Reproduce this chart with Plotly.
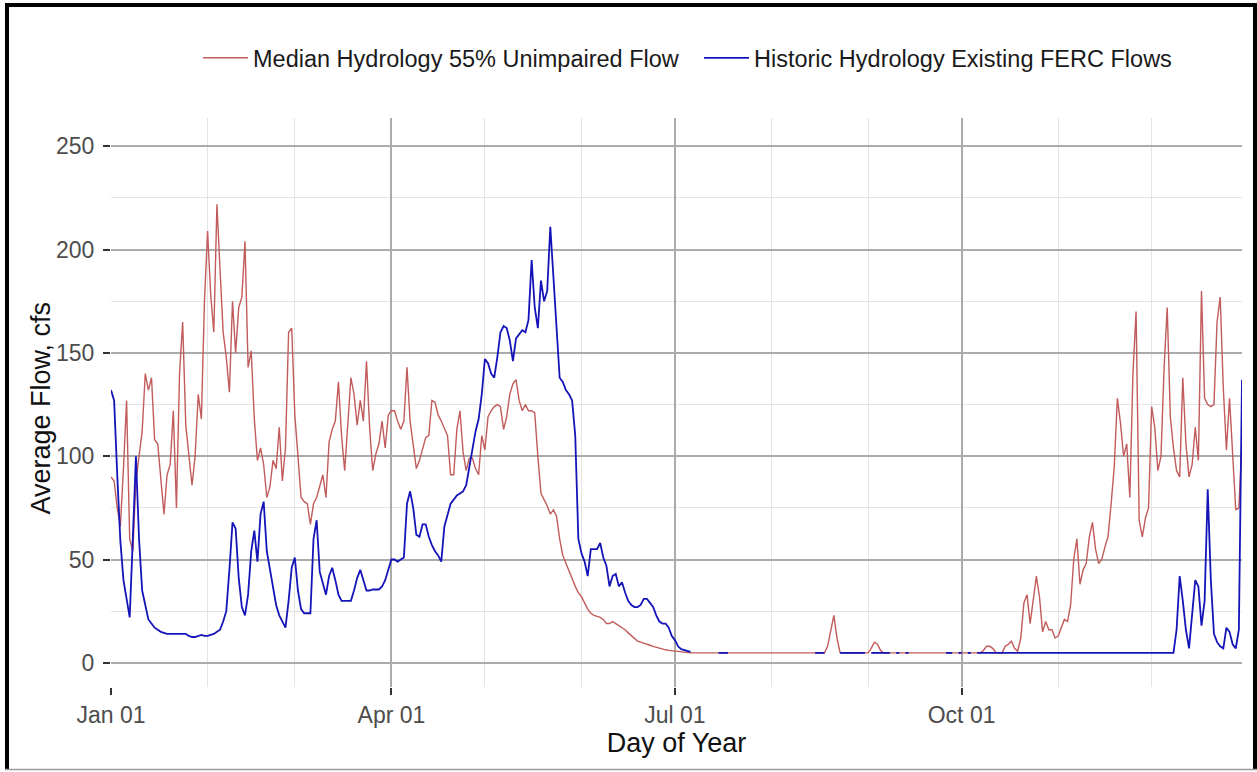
import pandas as pd
import plotly.graph_objects as go

N = None
# Daily values, Jan 01 .. Dec 30 (364 days)
median_55_unimpaired = [
    90, 88, 75, 66, 94, 127, 60, 54, 88, 100,
    112, 140, 132, 138, 108, 106, 90, 72, 91, 96,
    122, 75, 140, 165, 115, 100, 86, 100, 130, 118,
    175, 209, 178, 160, 222, 190, 160, 148, 131, 175,
    150, 172, 177, 204, 143, 151, 118, 98, 104, 96,
    80, 85, 98, 94, 114, 88, 104, 160, 162, 120,
    102, 80, 78, 77, 67, 77, 80, 85, 91, 80,
    107, 113, 117, 136, 110, 93, 117, 138, 130, 115,
    127, 117, 146, 114, 93, 101, 106, 117, 104, 120,
    122, 122, 117, 113, 117, 143, 117, 104, 94, 98,
    104, 109, 110, 127, 126, 120, 117, 113, 110, 91,
    91, 113, 122, 102, 93, 99, 99, 94, 91, 110,
    103, 119, 122, 124, 125, 124, 113, 119, 130, 135,
    137, 127, 122, 125, 122, 122, 121, 100, 82, 79,
    76, 72, 74, 71, 60, 52, 48, 45, 41, 37,
    34, 32, 29, 26, 24, 23, 22.5, 22, 21, 19,
    19, 20, 19, 18, 17, 16, 14.5, 13, 12, 10.5,
    10, 9.6, 9, 8.5, 8, 7.5, 7, 6.6, 6.3, 6,
    5.8, 5.6, 5.4, 5.2, 5.1, 5, 4.8, 4.8, 4.8, 4.8,
    4.8, 4.8, 4.8, 4.8, 4.8, 4.8, 4.8, 4.8, 4.8, 4.8,
    4.8, 4.8, 4.8, 4.8, 4.8, 4.8, 4.8, 4.8, 4.8, 4.8,
    4.8, 4.8, 4.8, 4.8, 4.8, 4.8, 4.8, 4.8, 4.8, 4.8,
    4.8, 4.8, 4.8, 4.8, 4.8, 4.8, 4.8, 4.8, 4.8, 4.8,
    8, 15, 23, 12, 5, 4.8, 4.8, 4.8, 4.8, 4.8,
    4.8, 4.8, 4.8, 4.8, 7, 10, 9, 6, 4.8, 4.8,
    4.8, 4.8, 4.8, 4.8, 4.8, 4.8, 4.8, 4.8, 4.8, 4.8,
    4.8, 4.8, 4.8, 4.8, 4.8, 4.8, 4.8, 4.8, 4.8, 4.8,
    4.8, 4.8, 4.8, 4.8, 4.8, 4.8, 4.8, 4.8, 4.8, 4.8,
    6, 8, 8, 7, 5, 4.8, 4.8, 8, 9, 10.5,
    7, 5.6, 12, 29, 33, 19, 30, 42, 32, 15,
    20, 16, 16, 12, 13, 17, 21, 20, 28, 50,
    60, 38, 45, 48, 61, 68, 55, 48, 50, 56,
    61, 77, 95, 128, 116, 100, 106, 80, 140, 170,
    69, 61, 70, 75, 124, 114, 93, 100, 143, 172,
    119, 104, 93, 90, 138, 106, 90, 96, 114, 98,
    180, 128, 125, 124, 125, 165, 177, 133, 103, 128,
    103, 74, 75, 108,
]

historic_existing_ferc = [
    132, 127, 91, 59, 40, 30, 22, 60, 100, 60,
    35, 28, 21, 19, 17, 16, 15, 14.5, 14, 14,
    14, 14, 14, 14, 14, 13, 12.5, 12.5, 13, 13.5,
    13, 13, 13.5, 14, 15, 16, 20, 25, 45, 68,
    65, 41, 27, 23, 33, 54, 64, 49, 72, 78,
    54, 45, 38, 28, 23, 20, 17, 30, 46, 51,
    35, 26, 24, 24, 24, 60, 69, 44, 38, 33,
    42, 46, 40, 33, 30, 30, 30, 30, 35, 41,
    45, 40, 35, 35, 35.5, 35.5, 35.5, 37, 40, 45,
    50, 50, 49, 50, 51, 77, 83, 75, 62, 61,
    67, 67, 61, 57, 54, 52, 49, 66, 71, 77,
    79, 81, 82, 83, 86, 95, 105, 112, 118, 130,
    147, 145, 140, 138, 148, 160, 163, 162, 156, 146,
    157, 159, 161, 160, 166, 195, 172, 162, 185, 175,
    180, 211, 188, 164, 138, 136, 132, 130, 127, 110,
    60, 53, 49, 42, 55, 55, 55, 58, 51, 47,
    37, 42, 43, 37, 39, 34, 30, 28, 27, 27,
    28, 31, 31, 29, 27, 23, 20, 19, 19, 17,
    13, 11, 8, 6.6, 6.2, 5.8, 5.3, N, N, N,
    N, N, N, N, N, 4.8, 4.8, 4.8, 4.8, N,
    N, N, N, N, N, N, N, N, N, N,
    N, N, N, N, N, N, N, N, N, N,
    N, N, N, N, N, N, 4.8, 4.8, 4.8, 4.8,
    N, N, N, N, 4.8, 4.8, 4.8, 4.8, 4.8, 4.8,
    4.8, 4.8, 4.8, N, 4.8, 4.8, 4.8, 4.8, 4.8, 4.8,
    4.8, N, 4.8, 4.8, N, 4.8, 4.8, N, N, N,
    N, N, N, N, N, N, N, N, 4.8, 4.8,
    4.8, N, 4.8, 4.8, N, 4.8, 4.8, N, 4.8, 4.8,
    4.8, 4.8, 4.8, 4.8, 4.8, 4.8, 4.8, 4.8, 4.8, 4.8,
    4.8, 4.8, 4.8, 4.8, 4.8, 4.8, 4.8, 4.8, 4.8, 4.8,
    4.8, 4.8, 4.8, 4.8, 4.8, 4.8, 4.8, 4.8, 4.8, 4.8,
    4.8, 4.8, 4.8, 4.8, 4.8, 4.8, 4.8, 4.8, 4.8, 4.8,
    4.8, 4.8, 4.8, 4.8, 4.8, 4.8, 4.8, 4.8, 4.8, 4.8,
    4.8, 4.8, 4.8, 4.8, 4.8, 4.8, 4.8, 4.8, 4.8, 4.8,
    4.8, 4.8, 16, 42, 30, 16, 7, 24, 40, 37,
    18, 30, 84, 40, 14, 10, 8, 7, 17, 15,
    9, 7, 16, 137,
]

dates = pd.date_range("2021-01-01", periods=len(median_55_unimpaired), freq="D")

series_names = ["Median Hydrology 55% Unimpaired Flow", "Historic Hydrology Existing FERC Flows"]
x_tick_format = "%b %d"

fig = go.Figure()
fig.add_trace(go.Scatter(x=dates, y=median_55_unimpaired, mode="lines",
                         name=series_names[0],
                         line=dict(color="#C25B5B", width=1.4)))
fig.add_trace(go.Scatter(x=dates[:len(historic_existing_ferc)], y=historic_existing_ferc, mode="lines",
                         name=series_names[1], connectgaps=False,
                         line=dict(color="#1414B8", width=1.8)))

L, R, T, B = 111, 15, 118, 85
W, H = 1257, 772
pw, ph = W - L - R, H - T - B
px = lambda v: (v - L) / pw
py = lambda v: (H - B - v) / ph

axis_common = dict(
    showgrid=True, gridcolor="#ababab", gridwidth=1.5,
    zeroline=False, showline=False, automargin=False,
    ticks="outside", ticklen=7, tickwidth=1.5, tickcolor="#333333",
    tickfont=dict(family="Liberation Sans, Arial", size=23, color="#4d4d4d"),
)

fig.update_layout(
    width=W, height=H,
    margin=dict(l=L, r=R, t=T, b=B),
    paper_bgcolor="white", plot_bgcolor="white",
    font=dict(family="Liberation Sans, Arial", color="#1a1a1a"),
    legend=dict(orientation="h", x=px(198), xanchor="left", y=py(58), yanchor="middle",
                font=dict(size=23.5, color="#1a1a1a"), bgcolor="rgba(0,0,0,0)",
                itemwidth=45, entrywidth=441, entrywidthmode="pixels"),
    xaxis=dict(
        type="date", range=[dates[0], dates[-1]],
        tick0="2021-01-01", dtick="M3", tickformat=x_tick_format,
        minor=dict(dtick="M1", tick0="2021-01-01", showgrid=True, gridcolor="#e4e4e4", gridwidth=1.2),
        title=dict(text="Day of Year", font=dict(size=27, color="#111111"), standoff=4),
        **axis_common,
    ),
    yaxis=dict(
        range=[-11.7, 263.7], tick0=0, dtick=50,
        minor=dict(dtick=25, tick0=0, showgrid=True, gridcolor="#e4e4e4", gridwidth=1.2),
        ticklabelstandoff=4,
        **axis_common,
    ),
    annotations=[
        dict(text="Average Flow, cfs", xref="paper", yref="paper", x=px(40.5), y=py(408),
             xanchor="center", yanchor="middle", textangle=-90, showarrow=False,
             font=dict(size=27, color="#111111")),
    ],
    shapes=[
        dict(type="line", xref="paper", yref="paper", x0=px(7), x1=px(7), y0=py(3), y1=py(770),
             line=dict(color="black", width=4), layer="above"),
        dict(type="line", xref="paper", yref="paper", x0=px(5), x1=px(1257), y0=py(5), y1=py(5),
             line=dict(color="black", width=4), layer="above"),
        dict(type="line", xref="paper", yref="paper", x0=px(1255), x1=px(1255), y0=py(3), y1=py(770),
             line=dict(color="black", width=4), layer="above"),
        dict(type="line", xref="paper", yref="paper", x0=px(5), x1=px(1257), y0=py(769.5), y1=py(769.5),
             line=dict(color="#9a9a9a", width=1.5), layer="above"),
    ],
)

fig.write_html("out.html", config={"displayModeBar": False},
               post_script="document.body.style.margin='0';document.body.style.overflow='hidden';")
